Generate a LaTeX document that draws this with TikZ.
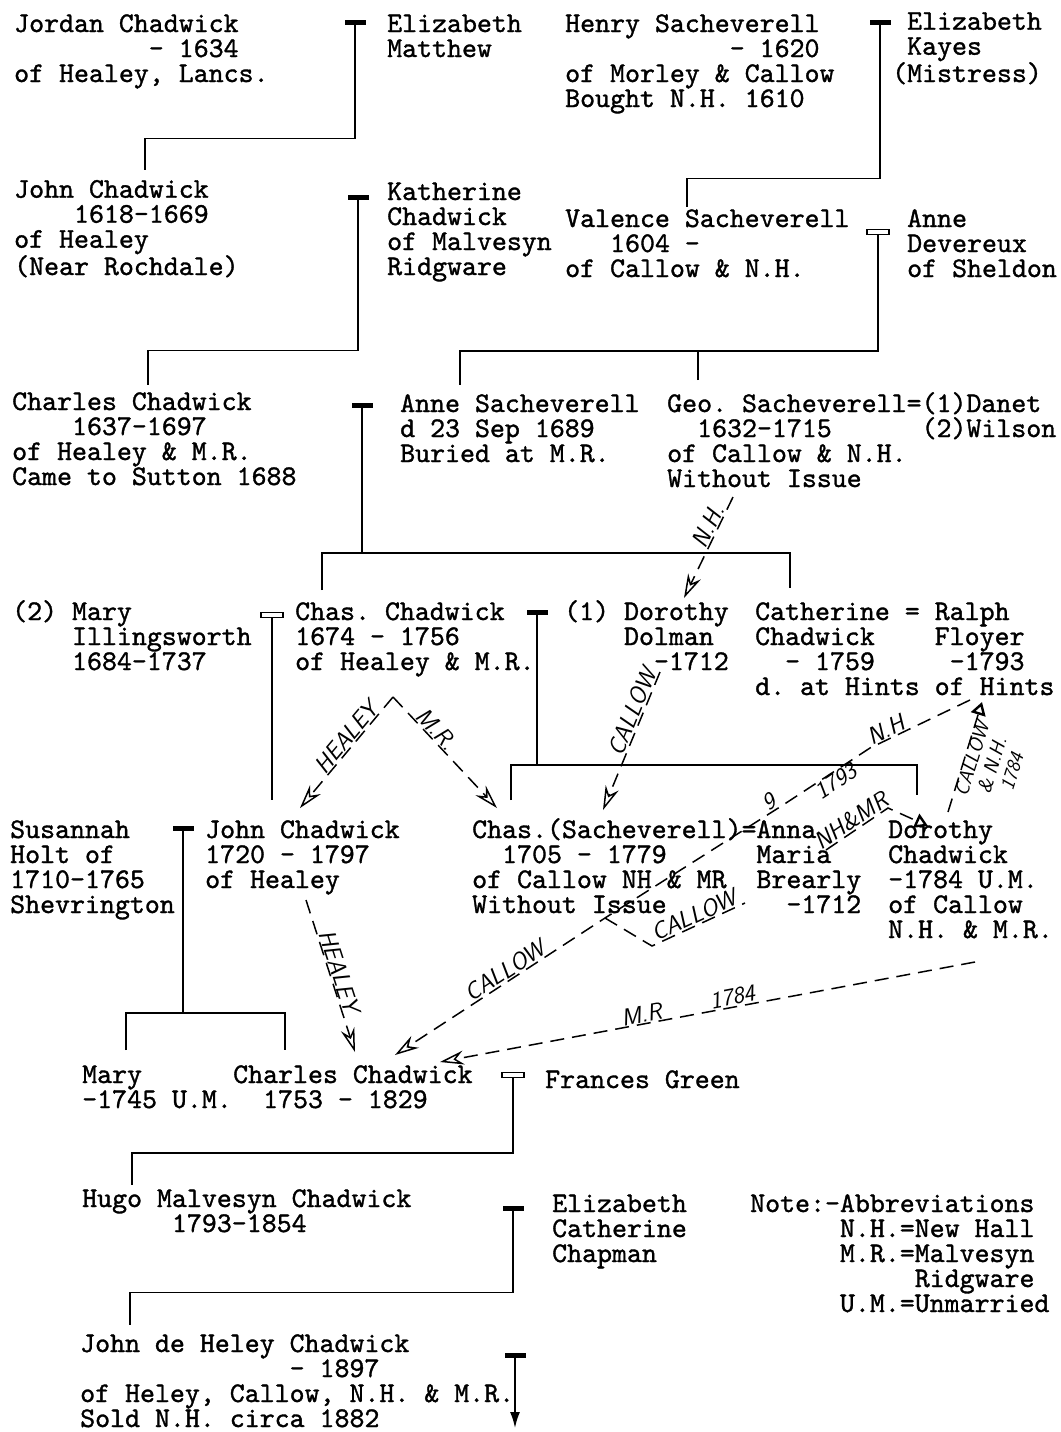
\documentclass[tikz,border=0pt]{standalone}
\usepackage{fontspec}
\setmonofont{lmmono10-regular.otf}[FakeBold=1.2]
\usetikzlibrary{arrows.meta}

\begin{document}
\begin{tikzpicture}[x=1pt, y=-1pt,
    every node/.style={inner sep=0pt},
    % a person is placed by the baseline of the last line
    person/.style={anchor=base west, align=left, font=\ttfamily\fontsize{28.5}{25}\selectfont},
    wed/.style={draw, fill=black, line width=1pt, minimum width=20pt, minimum height=4pt},
    wedd/.style={draw, line width=1.3pt, minimum width=22pt, minimum height=5pt},
    tree/.style={line width=1.8pt},
    hand/.style={line width=1.5pt, dash pattern=on 14pt off 8pt},
    dart/.style={-{Stealth[open, length=24pt, width=14pt, inset=8pt]}},
    fdart/.style={-{Triangle[open, length=13pt, width=15pt, line width=2.4pt]}},
    scrawl/.style={font=\sffamily\itshape\fontsize{24}{26}\selectfont, sloped, above=1pt}
]
\useasboundingbox (0,0) rectangle (1060,1432);

% people
\node[person] (jordan) at (14,82) {Jordan Chadwick\\~~~~~~~~~- 1634\\of Healey, Lancs.};
\node[person] (matthew) at (387,57) {Elizabeth\\Matthew};
\node[person] (henry) at (565,107) {Henry Sacheverell\\~~~~~~~~~~~- 1620\\of Morley \& Callow\\Bought N.H. 1610};
\node[person] (kayes) at (892,82) {~Elizabeth\\~Kayes\\(Mistress)};
\node[person] (john1) at (14,275) {John Chadwick\\~~~~1618-1669\\of Healey\\(Near Rochdale)};
\node[person] (katherine) at (387,275) {Katherine\\Chadwick\\of Malvesyn\\Ridgware};
\node[person] (valence) at (565,277) {Valence Sacheverell\\~~~1604 -\\of Callow \& N.H.};
\node[person] (devereux) at (907,277) {Anne\\Devereux\\of Sheldon};
\node[person] (charles1) at (12,485) {Charles Chadwick\\~~~~1637-1697\\of Healey \& M.R.\\Came to Sutton 1688};
\node[person] (annesach) at (400,462) {Anne Sacheverell\\d 23 Sep 1689\\Buried at M.R.};
\node[person] (geo) at (667,487) {Geo. Sacheverell=(1)Danet\\~~1632-1715~~~~~~(2)Wilson\\of Callow \& N.H.\\Without Issue};
\node[person] (illings) at (12,670) {(2) Mary\\~~~~Illingsworth\\~~~~1684-1737};
\node[person] (chas) at (295,670) {Chas. Chadwick\\1674 - 1756\\of Healey \& M.R.};
\node[person] (dolman) at (564,670) {(1) Dorothy\\~~~~Dolman\\~~~~~~-1712};
\node[person] (floyer) at (755,695) {Catherine = Ralph\\Chadwick~~~~Floyer\\~~- 1759~~~~~-1793\\d. at Hints of Hints};
\node[person] (holt) at (10,913) {Susannah\\Holt of\\1710-1765\\Shevrington};
\node[person] (john2) at (205,888) {John Chadwick\\1720 - 1797\\of Healey};
\node[person] (chassach) at (472,913) {Chas.(Sacheverell)=Anna\\~~1705 - 1779~~~~~~Maria\\of Callow NH \& MR~~Brearly\\Without Issue~~~~~~~~-1712};
\node[person] (dorothy) at (888,938) {Dorothy\\Chadwick\\-1784 U.M.\\of Callow\\N.H. \& M.R.};
\node[person] (mary) at (82,1108) {Mary\\-1745 U.M.};
\node[person] (charles2) at (233,1108) {Charles Chadwick\\~~1753 - 1829};
\node[person] (green) at (545,1088) {Frances Green};
\node[person] (hugo) at (82,1232) {Hugo Malvesyn Chadwick\\~~~~~~1793-1854};
\node[person] (chapman) at (552,1262) {Elizabeth\\Catherine\\Chapman};
\node[person] (abbrev) at (750,1312) {Note:-Abbreviations\\~~~~~~N.H.=New Hall\\~~~~~~M.R.=Malvesyn\\~~~~~~~~~~~Ridgware\\~~~~~~U.M.=Unmarried};
\node[person] (heley) at (80,1427) {John de Heley Chadwick\\~~~~~~~~~~~~~~- 1897\\of Heley, Callow, N.H. \& M.R.\\Sold N.H. circa 1882};

% marriages
\node[wed] (w1) at (355,22) {};
\node[wed] (w2) at (880,22) {};
\node[wed] (w3) at (358,197) {};
\node[wedd] (w4) at (878,232) {};
\node[wed] (w5) at (362,405) {};
\node[wedd] (w6) at (272,615) {};
\node[wed] (w7) at (537,612) {};
\node[wed] (w8) at (183,828) {};
\node[wedd] (w9) at (513,1075) {};
\node[wed] (w10) at (513,1208) {};
\node[wed] (w11) at (515,1355) {};

% where the lines of descent end
\coordinate (to-john1) at (145,170);
\coordinate (to-valence) at (687,207);
\coordinate (to-charles1) at (148,385);
\coordinate (to-annesach) at (460,385);
\coordinate (to-geo) at (698,380);
\coordinate (to-chas) at (322,590);
\coordinate (to-floyer) at (790,588);
\coordinate (to-john2) at (272,800);
\coordinate (to-chassach) at (511,800);
\coordinate (to-dorothy) at (917,795);
\coordinate (to-mary) at (126,1050);
\coordinate (to-charles2) at (285,1050);
\coordinate (to-hugo) at (132,1185);
\coordinate (to-heley) at (130,1325);
\coordinate (issue) at (515,1428);

\draw[tree] (w1.south) -- ++(0,114) -| (to-john1);
\draw[tree] (w2.south) -- ++(0,154) -| (to-valence);
\draw[tree] (w3.south) -- ++(0,151) -| (to-charles1);
\draw[tree] (w4.south) -- ++(0,116) -| (to-annesach);
\draw[tree] (to-geo) -- ++(0,-30);
\draw[tree] (w5.south) -- ++(0,146);
\draw[tree] (to-chas) -- ++(0,-37) -| (to-floyer);
\draw[tree] (w6.south) -- (to-john2);
\draw[tree] (w7.south) -- ++(0,150.5);
\draw[tree] (to-chassach) -- ++(0,-35) -| (to-dorothy);
\draw[tree] (w8.south) -- ++(0,182.5);
\draw[tree] (to-mary) -- ++(0,-37) -| (to-charles2);
\draw[tree] (w9.south) -- ++(0,75) -| (to-hugo);
\draw[tree] (w10.south) -- ++(0,82) -| (to-heley);
\draw[tree, -{Latex[length=16pt, width=10pt]}] (w11.south) -- (issue);

% how the estates passed (pencilled in)
\coordinate (geo-nh) at (733,497);
\coordinate (dolman-nh) at (684,598);
\coordinate (dolman-c) at (660,672);
\coordinate (chassach-c) at (603,810);
\coordinate (apex) at (393,697);
\coordinate (john2-h) at (300,808);
\coordinate (chassach-m) at (497,808);
\coordinate (john2-h2) at (306,900);
\coordinate (charles2-h) at (355,1052);
\coordinate (hints) at (970,700);
\coordinate (bend1) at (870,748);
\coordinate (bend2) at (783,805);
\coordinate (cross) at (605,918);
\coordinate (charles2-c) at (395,1055);
\coordinate (vlow) at (652,946);
\coordinate (vtop) at (745,903);
\coordinate (anna-nm) at (826,850);
\coordinate (nm-top) at (888,808);
\coordinate (dorothy-nm) at (928,826);
\coordinate (dorothy-c) at (948,812);
\coordinate (floyer-c) at (982,702);
\coordinate (dorothy-mr) at (975,962);
\coordinate (charles2-mr) at (440,1062);

\draw[hand, dart] (geo-nh) -- node[scrawl, pos=.33] {N.H.} (dolman-nh);
\draw[hand, dart] (dolman-c) -- node[scrawl, pos=.32] {CALLOW} (chassach-c);
\draw[hand, dart] (apex) -- node[scrawl, pos=.42] {HEALEY} (john2-h);
\draw[hand, dart] (apex) -- node[scrawl, pos=.35] {M.R.} (chassach-m);
\draw[hand, dart] (john2-h2) -- node[scrawl, pos=.49] {HEALEY} (charles2-h);
\draw[hand, dart] (hints) -- node[scrawl, pos=.8] {N.H} (bend1)
    -- node[scrawl, below=1pt, pos=.45] {1793} (bend2)
    -- node[scrawl, pos=.05] {9} (cross)
    -- node[scrawl, pos=.45] {CALLOW} (charles2-c);
\draw[hand] (cross) -- (vlow) -- node[scrawl, pos=.5] {CALLOW} (vtop);
\draw[hand, fdart] (anna-nm) -- node[scrawl, pos=.5] {NH\&MR} (nm-top) -- (dorothy-nm);
\draw[hand, fdart] (dorothy-c) -- node[scrawl, pos=.5, anchor=north, align=center, font=\sffamily\itshape\fontsize{20}{21}\selectfont] {CALLOW\\\& N.H.\\1784} (floyer-c);
\draw[hand, dart] (dorothy-mr) -- node[scrawl, pos=.45] {1784} node[scrawl, pos=.62] {M.R} (charles2-mr);
\end{tikzpicture}
\end{document}
